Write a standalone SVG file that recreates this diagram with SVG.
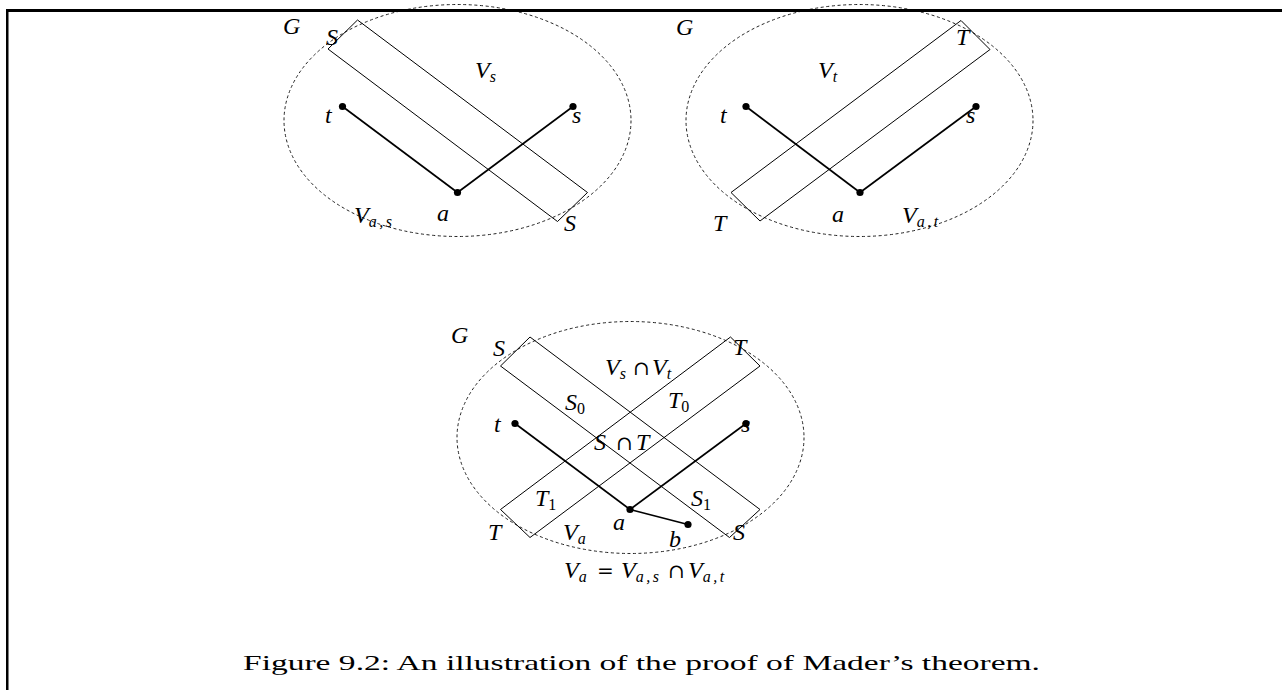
<svg xmlns="http://www.w3.org/2000/svg" width="1282" height="690" viewBox="0 0 1282 690">
<style>
.bg{fill:#fff}
.frame{fill:#000}
.ell{fill:none;stroke:#222;stroke-width:1;stroke-dasharray:3,2.6}
.box{fill:none;stroke:#000;stroke-width:1}
.edge{stroke:#000;stroke-width:1.7;fill:none}
.dot{fill:#000}
.m{font-family:"Liberation Serif","Times New Roman",serif;font-style:italic;font-size:24px;fill:#000}
.r{font-family:"Liberation Serif","Times New Roman",serif;font-style:normal;fill:#000}
.op{font-family:"DejaVu Serif","Liberation Serif",serif;font-style:normal;font-size:20px}
.sub{font-size:16px}
.wide{letter-spacing:2.5px}
.cap{font-family:"Liberation Serif","Times New Roman",serif;font-size:21px;fill:#000}
</style>
<rect class="bg" x="0" y="0" width="1282" height="690"/>

<!-- top-left diagram -->
<g id="diagram1">
  <g id="G1"><ellipse class="ell" cx="457.5" cy="120.5" rx="173.5" ry="116"/><text class="m" x="283" y="34">G</text></g>
  <g id="S1"><polygon class="box" points="357.5,20 587.5,192.5 557.5,221.5 328,49"/>
    <text class="m" x="326" y="45">S</text><text class="m" x="564" y="231">S</text></g>
  <text class="m" x="475" y="78">V<tspan class="sub" dy="4">s</tspan></text>
  <text class="m" x="354" y="223">V<tspan class="sub wide" dy="4">a,s</tspan></text>
  <g id="d1-connectors">
    <line class="edge" x1="342.5" y1="106.5" x2="457.5" y2="192.5"/>
    <line class="edge" x1="457.5" y1="192.5" x2="573" y2="106.5"/>
  </g>
  <g id="d1-t"><circle class="dot" cx="342.5" cy="106.5" r="3.6"/><text class="m" x="325" y="123">t</text></g>
  <g id="d1-s"><circle class="dot" cx="573" cy="106.5" r="3.6"/><text class="m" x="572" y="123">s</text></g>
  <g id="d1-a"><circle class="dot" cx="457.5" cy="192.5" r="3.6"/><text class="m" x="437" y="221">a</text></g>
</g>

<!-- top-right diagram -->
<g id="diagram2">
  <g id="G2"><ellipse class="ell" cx="859.5" cy="120.5" rx="173.5" ry="116"/><text class="m" x="676" y="35">G</text></g>
  <g id="T2"><polygon class="box" points="961,20.5 990,49.5 760,221 731,192.5"/>
    <text class="m" x="956" y="45">T</text><text class="m" x="713" y="231">T</text></g>
  <text class="m" x="818" y="78">V<tspan class="sub" dy="4">t</tspan></text>
  <text class="m" x="902" y="223">V<tspan class="sub wide" dy="4">a,t</tspan></text>
  <g id="d2-connectors">
    <line class="edge" x1="746" y1="106.5" x2="860" y2="192.5"/>
    <line class="edge" x1="860" y1="192.5" x2="976" y2="106.5"/>
  </g>
  <g id="d2-t"><circle class="dot" cx="746" cy="106.5" r="3.6"/><text class="m" x="720" y="123">t</text></g>
  <g id="d2-s"><circle class="dot" cx="976" cy="106.5" r="3.6"/><text class="m" x="966" y="123">s</text></g>
  <g id="d2-a"><circle class="dot" cx="860" cy="192.5" r="3.6"/><text class="m" x="832" y="222">a</text></g>
</g>

<!-- bottom diagram -->
<g id="diagram3">
  <g id="G3"><ellipse class="ell" cx="630.5" cy="437.5" rx="173.5" ry="116"/><text class="m" x="451" y="343">G</text></g>
  <g id="S3"><polygon class="box" points="530,337 760,509.5 729.5,537.5 500.5,366"/>
    <text class="m" x="493" y="356">S</text><text class="m" x="733" y="540">S</text></g>
  <g id="T3"><polygon class="box" points="730.5,337 760,366 530,537.5 500.5,509.5"/>
    <text class="m" x="733" y="355">T</text><text class="m" x="488" y="540">T</text></g>
  <text class="m" y="375"><tspan x="605">V</tspan><tspan class="sub" dy="4">s</tspan><tspan class="op" x="633" dy="-4">∩</tspan><tspan x="652">V</tspan><tspan class="sub" dy="4">t</tspan></text>
  <text class="m" x="565" y="410">S<tspan class="r sub" dy="4">0</tspan></text>
  <text class="m" x="668" y="408">T<tspan class="r sub" dy="4">0</tspan></text>
  <text class="m" y="450"><tspan x="594">S</tspan><tspan class="op" x="616">∩</tspan><tspan x="636">T</tspan></text>
  <text class="m" x="535" y="506">T<tspan class="r sub" dy="4">1</tspan></text>
  <text class="m" x="691" y="506">S<tspan class="r sub" dy="4">1</tspan></text>
  <text class="m" x="563" y="540">V<tspan class="sub" dy="4">a</tspan></text>
  <text class="m" y="578"><tspan x="564">V</tspan><tspan class="sub" dy="4">a</tspan><tspan x="597" dy="-4" class="op">=</tspan><tspan x="621">V</tspan><tspan class="sub wide" dy="4">a,s</tspan><tspan x="668" dy="-4" class="op">∩</tspan><tspan x="688">V</tspan><tspan class="sub wide" dy="4">a,t</tspan></text>
  <g id="d3-connectors">
    <line class="edge" x1="515" y1="423.5" x2="630" y2="509.5"/>
    <line class="edge" x1="630" y1="509.5" x2="746" y2="423.5"/>
    <line class="edge" x1="630" y1="509.5" x2="688" y2="524.5"/>
  </g>
  <g id="d3-t"><circle class="dot" cx="515" cy="423.5" r="3.6"/><text class="m" x="494" y="432">t</text></g>
  <g id="d3-s"><circle class="dot" cx="746" cy="423.5" r="3.6"/><text class="m" x="741" y="432">s</text></g>
  <g id="d3-a"><circle class="dot" cx="630" cy="509.5" r="3.6"/><text class="m" x="613" y="530">a</text></g>
  <g id="d3-b"><circle class="dot" cx="688" cy="524.5" r="3.6"/><text class="m" x="669" y="547">b</text></g>
</g>

<!-- frame -->
<rect class="frame" x="6" y="9" width="1276" height="3"/>
<rect class="frame" x="6" y="9" width="2.5" height="681"/>

<text class="cap" x="243" y="670" textLength="797" lengthAdjust="spacingAndGlyphs">Figure 9.2: An illustration of the proof of Mader’s theorem.</text>
</svg>
